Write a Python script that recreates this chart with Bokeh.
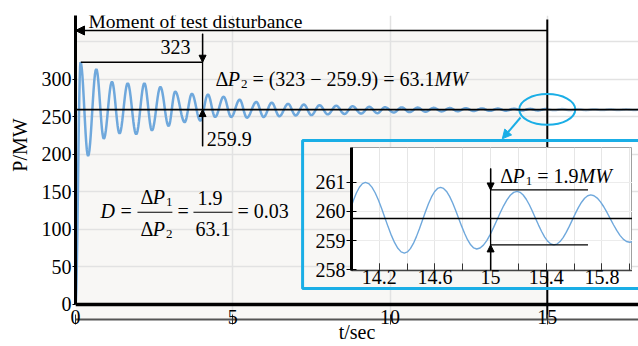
import numpy as np
from bokeh.plotting import figure
from bokeh.models import FixedTicker, Span, BoxAnnotation, Arrow, NormalHead, Label
from bokeh.embed import file_html
from bokeh.resources import INLINE

SERIF = "Liberation Serif"
CURVE = "#6fa8dc"
CYAN = "#1aaee6"
LIFT = 6.5   # px correction so label baselines sit where the reference has them
NBSP = "\u00a0"

# ---------------- data ----------------
# extrema (turning points) of the power swing in the main plot, t in s, P in MW
main_t = [0.00, 0.16, 0.40, 0.66, 0.90, 1.16, 1.40, 1.66, 1.93, 2.19, 2.43, 2.70, 2.96,
          3.17, 3.47, 3.70, 3.97, 4.21, 4.44, 4.71, 4.95, 5.22, 5.45, 5.75, 5.98, 6.24,
          6.48, 6.76, 7.00, 7.26, 7.50, 7.76, 8.02, 8.29, 8.55, 8.81, 9.08, 9.34, 9.60,
          9.84, 10.12, 10.37, 10.62, 10.88, 11.13, 11.39, 11.64, 11.90, 12.15, 12.41,
          12.66, 12.92, 13.17, 13.43, 13.68, 13.94, 14.19, 14.45, 14.70, 14.96, 15.21,
          15.47, 15.72, 15.98, 16.23, 16.49, 16.74, 17.00, 17.25, 17.51, 17.76, 18.02]
main_p = [0.0, 323, 198, 314, 221, 297, 228, 295, 227, 295, 232, 290, 238,
          284, 243, 281, 245, 280, 250, 277, 250, 273, 249, 270, 250, 269,
          251, 267.5, 252, 266.6, 252.5, 265.7, 253.5, 265, 254, 264.3, 254.5, 263.5, 255,
          263, 256, 262.8, 256.5, 262.5, 257, 262.2, 257.4, 261.9, 257.7, 261.6,
          258, 261.4, 258.2, 261.2, 258.4, 261.0, 258.6, 260.85, 258.7, 260.7, 258.85,
          260.6, 258.95, 260.5, 259.05, 260.4, 259.15, 260.3, 259.25, 260.2, 259.35, 260.1]

# extrema of the zoomed curve in the inset
inset_t = [13.84, 14.10, 14.38, 14.64, 14.90, 15.19, 15.455, 15.72, 16.00, 16.27]
inset_p = [258.5, 261.0, 258.57, 260.83, 258.71, 260.69, 258.85, 260.57, 258.94, 260.5]

steady_p = 259.9      # steady-state power, main plot
inset_mid = 259.76    # horizontal reference line in the inset
p_peak = 323          # first peak
dp1_hi, dp1_lo = 260.74, 258.85   # Delta P1 bracket in the inset

main_xticks = [0, 5, 10, 15]
main_yticks = [0, 50, 100, 150, 200, 250, 300]
main_ygrid = [50, 100, 150, 200, 250, 300, 350]
inset_xticks = [14.2, 14.6, 15, 15.4, 15.8]
inset_xminor = [14.0, 14.2, 14.4, 14.6, 14.8, 15.0, 15.2, 15.4, 15.6, 15.8, 16.0]
inset_yticks = [258, 259, 260, 261]


def smooth(ts, vs, n=12):
    """Half-cosine shaping between successive turning points read above."""
    xs, ys = [], []
    for i in range(len(ts) - 1):
        s = np.linspace(0, 1, n, endpoint=False)
        xs.extend(ts[i] + (ts[i + 1] - ts[i]) * s)
        ys.extend(vs[i] + (vs[i + 1] - vs[i]) * (1 - np.cos(np.pi * s)) / 2)
    xs.append(ts[-1]); ys.append(vs[-1])
    return np.array(xs), np.array(ys)


W_REG = {'.': .25, ' ': .25, '=': .564, '−': .564, '(': .333, ')': .333, 'Δ': .612}
W_IT = {'P': .66, 'M': .833, 'W': .833, 'D': .722}


def tw(txt, style):
    tot = 0
    for ch in txt:
        if ch.isdigit():
            tot += .5
        elif style == "italic":
            tot += W_IT.get(ch, .55)
        else:
            tot += W_REG.get(ch, .5)
    return tot


def label(fig, x, y, txt, size=20, style="normal", align="left", dx=0.0, dy=0.0):
    fig.add_layout(Label(x=x, y=y, x_offset=dx, y_offset=dy + LIFT,
                         text=txt.replace(" ", NBSP),
                         text_font=SERIF, text_font_size=f"{size}px",
                         text_font_style=style, text_color="black",
                         text_baseline="alphabetic", text_align=align))


def rich(fig, x, y, runs):
    off = 0.0
    for txt, style, size, dy in runs:
        label(fig, x, y, txt, size=size, style=style, dx=off, dy=dy)
        off += tw(txt, style) * size


def dP(sub):
    return [("Δ", "normal", 20, 0), ("P", "italic", 20, 0), (sub, "normal", 13, -5)]


# ---------------- main figure ----------------
p = figure(width=638, height=346, x_range=(0, 17.9), y_range=(-20, 385.3),
           output_backend="svg", toolbar_location=None,
           min_border_left=75, min_border_right=0, min_border_top=15, min_border_bottom=27)
p.styles = {"position": "absolute", "left": "0px", "top": "0px"}
p.background_fill_color = "white"
p.border_fill_color = "white"
p.outline_line_color = None

p.xaxis.ticker = FixedTicker(ticks=main_xticks)
p.yaxis.ticker = FixedTicker(ticks=main_yticks)
p.xgrid.ticker = FixedTicker(ticks=main_xticks)
p.ygrid.ticker = FixedTicker(ticks=main_ygrid)
for g in (p.xgrid, p.ygrid):
    g.grid_line_color = "#e2e2e2"
    g.grid_line_width = 1.5

for ax in (p.xaxis, p.yaxis):
    ax.major_label_text_font = SERIF
    ax.major_label_text_font_size = "20px"
    ax.major_label_text_color = "black"
    ax.minor_tick_line_color = None
    ax.axis_label_text_font = SERIF
    ax.axis_label_text_font_size = "20px"
    ax.axis_label_text_font_style = "normal"
    ax.axis_label_text_color = "black"

p.xaxis.axis_label = "t/sec"
p.xaxis.axis_label_standoff = -6
p.xaxis.axis_line_color = "#555555"
p.xaxis.axis_line_width = 2
p.xaxis.major_tick_in = 5
p.xaxis.major_tick_out = 5
p.xaxis.major_tick_line_color = "#333333"
p.xaxis.major_label_standoff = -15

p.yaxis.axis_label = NBSP * 9 + "P/MW"
p.yaxis.axis_label_standoff = 8
p.yaxis.axis_line_color = "black"
p.yaxis.axis_line_width = 3
p.yaxis.bounds = (0, 385.3)
p.yaxis.major_tick_in = 0
p.yaxis.major_tick_out = 3
p.yaxis.major_label_standoff = 1

# shaded interval before t = 15 s
p.add_layout(BoxAnnotation(left=0, right=15, top=365.3, fill_color="#f8f7f5",
                           fill_alpha=1, line_alpha=0, level="image"))

mx, my = smooth(main_t, main_p)
k = int(np.searchsorted(mx, 15.0))
p.line(mx[:k + 1], my[:k + 1], line_color=CURVE, line_width=2.5)
p.line(mx[k:], my[k:], line_color=CURVE, line_width=2.5, line_alpha=0.5)

p.add_layout(Span(location=steady_p, dimension="width", line_color="black", line_width=1.8))
p.add_layout(Span(location=0, dimension="width", line_color="black", line_width=3.5))

# vertical line at the moment of the test disturbance
p.segment(x0=[15], y0=[380], x1=[15], y1=[-20], line_color="black", line_width=2)
p.add_layout(Arrow(end=NormalHead(size=9, fill_color="black", line_color="black"),
                   x_start=15, y_start=365.3, x_end=0, y_end=365.3,
                   line_color="black", line_width=1.3))
label(p, 0.413, 369.3, "Moment of test disturbance", size=19.5)

# Delta P2 bracket
p.segment(x0=[0.17], y0=[p_peak], x1=[4.04], y1=[p_peak], line_color="black", line_width=1.3)
p.segment(x0=[4.04], y0=[361], x1=[4.04], y1=[211], line_color="black", line_width=1.3)
p.add_layout(Arrow(end=NormalHead(size=7, fill_color="black", line_color="black"),
                   x_start=4.04, y_start=361, x_end=4.04, y_end=p_peak,
                   line_color="black", line_width=1.3))
p.add_layout(Arrow(end=NormalHead(size=7, fill_color="black", line_color="black"),
                   x_start=4.04, y_start=211, x_end=4.04, y_end=steady_p,
                   line_color="black", line_width=1.3))
label(p, 3.66, 334.7, "323", align="right")
label(p, 4.17, 212, "259.9")
rich(p, 4.45, 292, dP("2") + [(" = (323 − 259.9) = 63.1", "normal", 20, 0),
                               ("MW", "italic", 20, 0)])

# damping ratio formula
rich(p, 0.795, 116, [("D", "italic", 20, 0)])
rich(p, 1.43, 116, [("=", "normal", 20, 0)])
rich(p, 2.07, 134.7, dP("1"))
rich(p, 2.07, 92, dP("2"))
p.segment(x0=[1.97], y0=[123], x1=[3.08], y1=[123], line_color="black", line_width=1.2)
rich(p, 3.24, 116, [("=", "normal", 20, 0)])
rich(p, 3.88, 133.3, [("1.9", "normal", 20, 0)])
rich(p, 3.815, 92, [("63.1", "normal", 20, 0)])
p.segment(x0=[3.75], y0=[123], x1=[4.99], y1=[123], line_color="black", line_width=1.2)
rich(p, 5.15, 116, [("= 0.03", "normal", 20, 0)])

# zoom marker and inset frame
p.ellipse(x=[15], y=[260], width=[1.78], height=[41], fill_color=None,
          line_color=CYAN, line_width=2)
p.add_layout(Arrow(end=NormalHead(size=9, fill_color=CYAN, line_color=CYAN),
                   x_start=14.15, y_start=249.3, x_end=13.57, y_end=220.9,
                   line_color=CYAN, line_width=2))
p.add_layout(BoxAnnotation(left=7.22, right=20, bottom=21.3, top=218.7, fill_alpha=0,
                           line_color=CYAN, line_alpha=1, line_width=3))

# ---------------- inset figure ----------------
q = figure(width=329, height=148, x_range=(14.0, 16.02), y_range=(257.97, 262.2),
           output_backend="svg", toolbar_location=None,
           min_border_left=48, min_border_right=0, min_border_top=5, min_border_bottom=20)
q.styles = {"position": "absolute", "left": "303px", "top": "142px"}
q.background_fill_color = "white"
q.border_fill_color = None
q.outline_line_color = "#a0a0a0"
q.outline_line_width = 1

q.xaxis.ticker = FixedTicker(ticks=inset_xticks, minor_ticks=inset_xminor)
q.yaxis.ticker = FixedTicker(ticks=inset_yticks)
q.xgrid.ticker = FixedTicker(ticks=inset_xticks, minor_ticks=inset_xminor)
q.ygrid.ticker = FixedTicker(ticks=inset_yticks)
q.xgrid.grid_line_color = "#e6e6e6"
q.xgrid.minor_grid_line_color = "#e6e6e6"
q.ygrid.grid_line_color = "#ececec"
q.xaxis.major_label_overrides = {15: "15"}

for ax in (q.xaxis, q.yaxis):
    ax.major_label_text_font = SERIF
    ax.major_label_text_font_size = "20px"
    ax.major_label_text_color = "black"

q.xaxis.axis_line_color = "#444444"
q.xaxis.axis_line_width = 1.5
q.xaxis.major_tick_in = 7
q.xaxis.major_tick_out = 0
q.xaxis.minor_tick_in = 7
q.xaxis.minor_tick_out = 0
q.xaxis.major_tick_line_color = "#333333"
q.xaxis.minor_tick_line_color = "#333333"
q.xaxis.major_label_standoff = -1

q.yaxis.axis_line_color = "black"
q.yaxis.axis_line_width = 3
q.yaxis.major_tick_in = 5
q.yaxis.major_tick_out = 5
q.yaxis.minor_tick_line_color = None
q.yaxis.major_label_standoff = 1

ix, iy = smooth(inset_t, inset_p)
q.line(ix, iy, line_color=CURVE, line_width=1.4)
q.add_layout(Span(location=inset_mid, dimension="width", line_color="black", line_width=1.5))

q.segment(x0=[15], y0=[261.48], x1=[15], y1=[257.9], line_color="black", line_width=1.3)
q.segment(x0=[15, 15], y0=[dp1_hi, dp1_lo], x1=[15.70, 15.70], y1=[dp1_hi, dp1_lo],
          line_color="black", line_width=1.3)
q.add_layout(Arrow(end=NormalHead(size=7, fill_color="black", line_color="black"),
                   x_start=15, y_start=261.48, x_end=15, y_end=dp1_hi,
                   line_color="black", line_width=1.3))
q.add_layout(Arrow(end=NormalHead(size=7, fill_color="black", line_color="black"),
                   x_start=15, y_start=257.97, x_end=15, y_end=dp1_lo,
                   line_color="black", line_width=1.3))
rich(q, 15.07, 260.98, dP("1") + [(" = 1.9", "normal", 20, 0), ("MW", "italic", 20, 0)])

open("out.html", "w").write(file_html([p, q], INLINE))
